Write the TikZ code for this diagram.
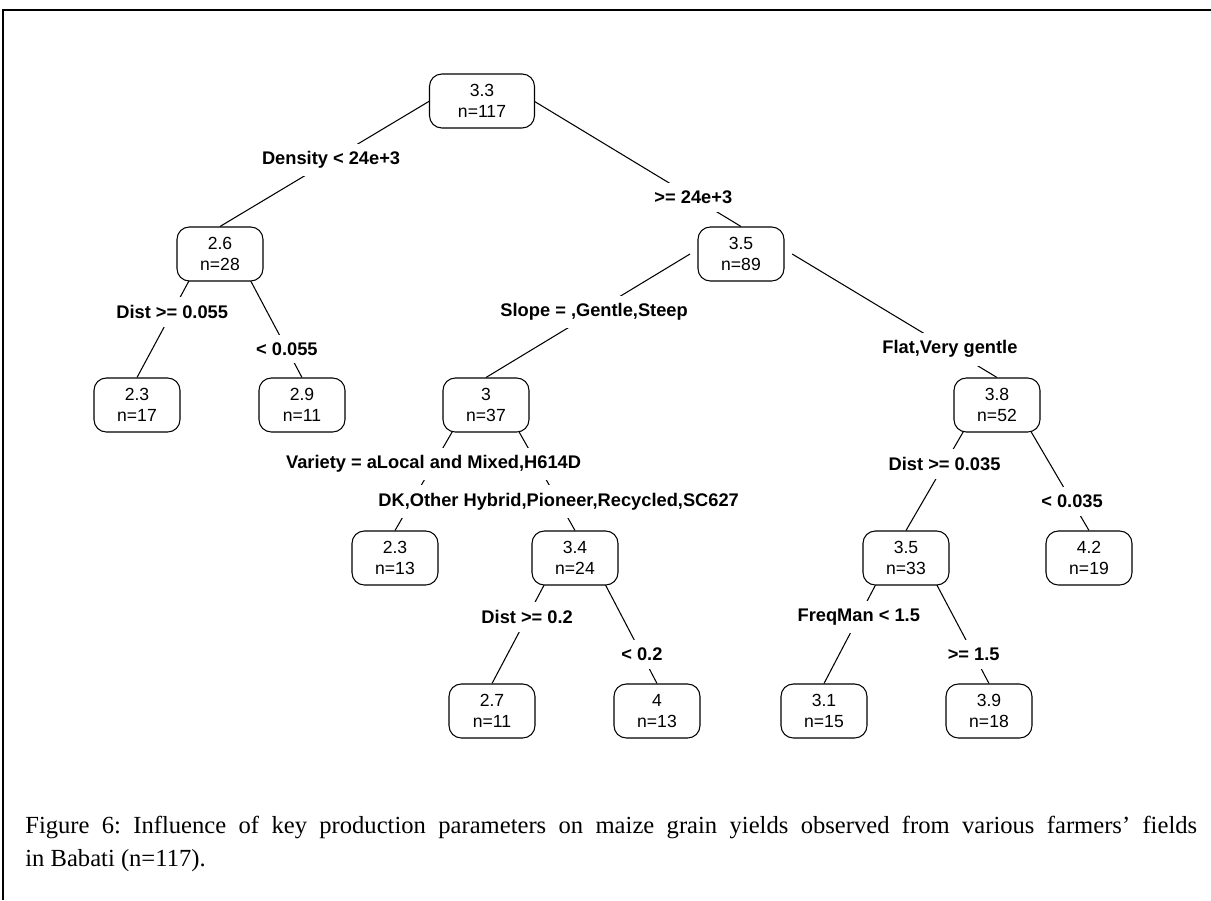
\documentclass[tikz,border=0pt]{standalone}
\usepackage{fontspec}
\setmainfont{Liberation Sans}
\newfontfamily\captionfont{Liberation Serif}
\usepackage{tikz}
\usetikzlibrary{calc, positioning}
\pgfdeclarelayer{background}
\pgfsetlayers{background,main}
\tikzset{
treenode/.style={draw=black, fill=white, line width=0.6pt, rounded corners=7pt, minimum width=1.72cm, minimum height=1.08cm, inner sep=1pt, align=center, font=\fontsize{10}{12}\selectfont}, % the boxes with mean yield and n
splitlabel/.style={fill=white, inner xsep=1pt, inner ysep=4.5pt, font=\fontsize{10.4}{12}\selectfont\bfseries}, % text that breaks each branch
at left/.style={coordinate, pos=0.47}, % where the left split text sits on its branch
at right/.style={coordinate, pos=0.77}, % same for the right one
}

\begin{document}
\begin{tikzpicture}[x=0.02cm, y=-0.02cm]
        \useasboundingbox (0,0) rectangle (1211,900);
        \draw[line width=1.2pt] (3,900) -- (3,10) -- (1211,10);

        \node[treenode, minimum width=2.1cm] (root) at (482,101) {3.3\\n=117};
        \node[treenode] (n26) at (220,254) {2.6\\n=28};
        \node[treenode] (n35) at (741,254) {3.5\\n=89};
        \node[treenode] (n23a) at (137,405) {2.3\\n=17};
        \node[treenode] (n29) at (302,405) {2.9\\n=11};
        \node[treenode] (n3) at (486,405) {3\\n=37};
        \node[treenode] (n38) at (997,405) {3.8\\n=52};
        \node[treenode] (n23b) at (395,558) {2.3\\n=13};
        \node[treenode] (n34) at (575,558) {3.4\\n=24};
        \node[treenode] (n35b) at (906,558) {3.5\\n=33};
        \node[treenode] (n42) at (1089,558) {4.2\\n=19};
        \node[treenode] (n27) at (492,711) {2.7\\n=11};
        \node[treenode] (n4) at (657,711) {4\\n=13};
        \node[treenode] (n31) at (824,711) {3.1\\n=15};
        \node[treenode] (n39) at (989,711) {3.9\\n=18};

        \begin{pgfonlayer}{background}
        \draw[line width=0.6pt]
        ($(root)!0.2!(root -| n26)$) edge node[at left] (density) {} (n26.north)
        ($(root)!0.2!(root -| n35)$) edge node[at right] (density2) {} (n35.north)
        ($(n26)!0.2!(n26 -| n23a)$) edge node[at left] (dist) {} (n23a.north)
        ($(n26)!0.2!(n26 -| n29)$) edge node[at right] (dist2) {} (n29.north)
        ($(n35)!0.2!(n35 -| n3)$) edge node[at left] (slope) {} (n3.north)
        ($(n35)!0.2!(n35 -| n38)$) edge node[at right] (slope2) {} (n38.north)
        ($(n3)!0.2!(n3 -| n23b)$) edge node[at left] (variety) {} (n23b.north)
        ($(n3)!0.2!(n3 -| n34)$) edge node[at right] (variety2) {} (n34.north)
        ($(n38)!0.2!(n38 -| n35b)$) edge node[at left] (distb) {} (n35b.north)
        ($(n38)!0.2!(n38 -| n42)$) edge node[at right] (distb2) {} (n42.north)
        ($(n34)!0.2!(n34 -| n27)$) edge node[at left] (distc) {} (n27.north)
        ($(n34)!0.2!(n34 -| n4)$) edge node[at right] (distc2) {} (n4.north)
        ($(n35b)!0.2!(n35b -| n31)$) edge node[at left] (freqman) {} (n31.north)
        ($(n35b)!0.2!(n35b -| n39)$) edge node[at right] (freqman2) {} (n39.north);
        \end{pgfonlayer}

        \node[splitlabel] at (density) {Density < 24e+3};
        \node[splitlabel] at (density2) {>= 24e+3};
        \node[splitlabel] at (dist) {Dist >= 0.055};
        \node[splitlabel] at (dist2) {< 0.055};
        \node[splitlabel] at (slope) {Slope = ,Gentle,Steep};
        \node[splitlabel] at (slope2) {Flat,Very gentle};
        \node[splitlabel] at (variety) {Variety = aLocal and Mixed,H614D};
        \node[splitlabel] at (variety2) {DK,Other Hybrid,Pioneer,Recycled,SC627};
        \node[splitlabel] at (distb) {Dist >= 0.035};
        \node[splitlabel] at (distb2) {< 0.035};
        \node[splitlabel] at (distc) {Dist >= 0.2};
        \node[splitlabel] at (distc2) {< 0.2};
        \node[splitlabel] at (freqman) {FreqMan < 1.5};
        \node[splitlabel] at (freqman2) {>= 1.5};

        \node[anchor=north west, inner sep=0pt, text width=23.44cm, align=justify, font=\captionfont\fontsize{14}{18.5}\selectfont\frenchspacing] (caption) at (25,816)
        {Figure 6: Influence of key production parameters on maize grain yields observed from various farmers’ fields\linebreak in Babati (n=117).};
\end{tikzpicture}
\end{document}
